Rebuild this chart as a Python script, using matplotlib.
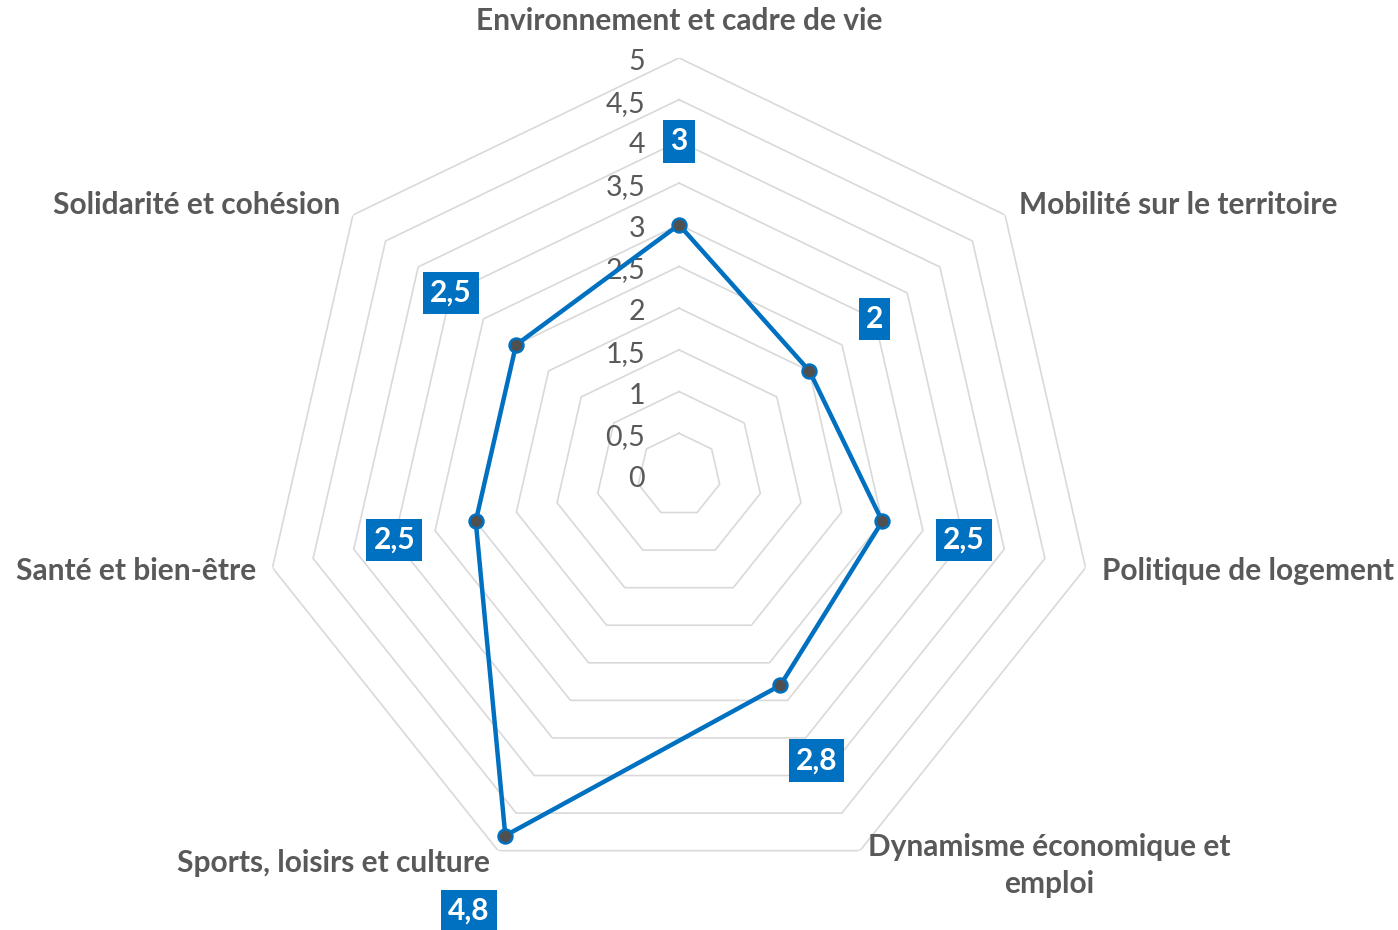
import numpy as np
import matplotlib
matplotlib.use("Agg")
import matplotlib.pyplot as plt

categories = [
    "Environnement et cadre de vie",
    "Mobilité sur le territoire",
    "Politique de logement",
    "Dynamisme économique et\nemploi",
    "Sports, loisirs et culture",
    "Santé et bien-être",
    "Solidarité et cohésion",
]
values = [3.0, 2.0, 2.5, 2.8, 4.8, 2.5, 2.5]
value_labels = ["3", "2", "2,5", "2,8", "4,8", "2,5", "2,5"]
ring_levels = [0, 0.5, 1, 1.5, 2, 2.5, 3, 3.5, 4, 4.5, 5]
ring_labels = ["0", "0,5", "1", "1,5", "2", "2,5", "3", "3,5", "4", "4,5", "5"]

BLUE = "#0070C0"
GRAY_TXT = "#595959"
GRID = "#D9D9D9"
FONT = "Lato"

fig = plt.figure(figsize=(13.98, 9.30), dpi=100)
ax = fig.add_axes([0.1874, 0.0409, 0.5966, 0.8968], projection="polar")
ax.set_theta_zero_location("N")
ax.set_theta_direction(-1)
ax.set_ylim(0, 5)
ax.grid(False)
ax.spines["polar"].set_visible(False)
ax.set_xticks([])
ax.set_yticks([])
ax.patch.set_alpha(0)

n = len(categories)
theta = np.arange(n) * 2 * np.pi / n
theta_c = np.append(theta, theta[0])

# rings
for lvl in ring_levels[1:]:
    ax.plot(theta_c, [lvl] * (n + 1), color=GRID, lw=1.2, zorder=1)

# tick labels
for lvl, lab in zip(ring_levels, ring_labels):
    ax.annotate(lab, xy=(0, lvl), xytext=(-34, -4), textcoords="offset pixels",
                ha="right", va="center", fontsize=20.5, color=GRAY_TXT,
                family=FONT, zorder=2)

# data
vals_c = values + [values[0]]
ax.plot(theta_c, vals_c, color=BLUE, lw=3.2, zorder=3)
ax.plot(theta, values, "o", ms=10, mfc="#505050", mec=BLUE, mew=1.8, zorder=4)

# data labels
for t, v, lab in zip(theta, values, value_labels):
    ax.text(t, v + 1.0, lab, ha="center", va="center", fontsize=21.5,
            fontweight="bold", color="white", family=FONT, zorder=5,
            bbox=dict(boxstyle="square,pad=0.24", fc=BLUE, ec="none"))

# category labels
offsets = [
    (0, 37, "center"),
    (14, 10, "left"),
    (16, -3, "left"),
    (8, -15, "left"),
    (-8, -12, "right"),
    (-16, -3, "right"),
    (-13, 10, "right"),
]
for t, cat, (dx, dy, ha) in zip(theta, categories, offsets):
    ax.annotate(cat, xy=(t, 5), xytext=(dx, dy), textcoords="offset pixels",
                ha=ha, va="center", multialignment="center", fontsize=21.5,
                fontweight="bold", color=GRAY_TXT, family=FONT,
                linespacing=1.4, annotation_clip=False)

fig.savefig("out.png", dpi=100)
